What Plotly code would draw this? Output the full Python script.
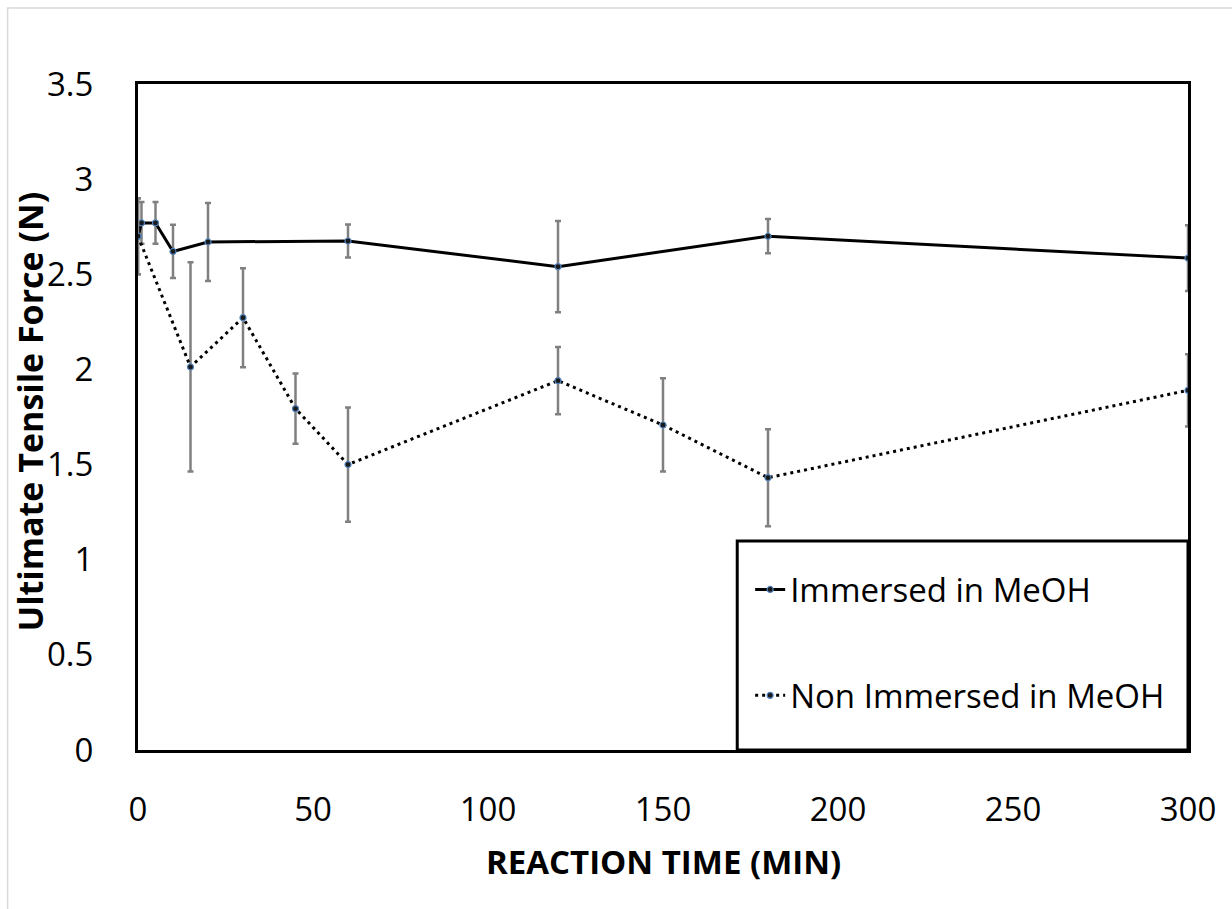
import plotly.graph_objects as go

# Reaction time (min)
time_immersed = [0, 1, 5, 10, 20, 60, 120, 180, 300]
force_immersed = [2.70, 2.77, 2.77, 2.62, 2.67, 2.675, 2.54, 2.70, 2.585]
err_immersed = [0.20, 0.11, 0.11, 0.14, 0.205, 0.087, 0.24, 0.09, 0.173]

time_non = [0, 15, 30, 45, 60, 120, 150, 180, 300]
force_non = [2.70, 2.013, 2.272, 1.794, 1.50, 1.941, 1.708, 1.431, 1.89]
err_non = [0.20, 0.55, 0.26, 0.184, 0.30, 0.177, 0.245, 0.255, 0.19]

name_immersed = "Immersed in MeOH"
name_non = "Non Immersed in MeOH"
x_title = "REACTION TIME (MIN)"
y_title = "Ultimate Tensile Force (N)"

FONT = "Open Sans"
err_style = dict(type="data", color="#808080", thickness=2.5, width=3, visible=True)
marker_style = dict(symbol="circle", size=6, color="#1a1a1a",
                    line=dict(color="#4F81BD", width=1.2))

fig = go.Figure()
fig.add_trace(go.Scatter(
    x=time_immersed, y=force_immersed, name=name_immersed, legendgroup="a",
    mode="lines+markers",
    line=dict(color="black", width=3),
    marker=marker_style,
    error_y=dict(array=err_immersed, **err_style),
))
fig.add_trace(go.Scatter(
    x=time_non, y=force_non, name=name_non, legendgroup="b",
    mode="lines+markers",
    line=dict(color="black", width=3, dash="3px,4px"),
    marker=marker_style,
    error_y=dict(array=err_non, **err_style),
))

W, H = 1232, 909
ml, mr, mt, mb = 137.5, 44, 84, 159
pw, ph = W - ml - mr, H - mt - mb

fig.update_layout(
    width=W, height=H,
    margin=dict(l=ml, r=mr, t=mt, b=mb, autoexpand=False),
    paper_bgcolor="white", plot_bgcolor="white",
    font=dict(family=FONT, size=33, color="black"),
    showlegend=True,
    legend=dict(
        x=0.583, xanchor="left", y=0.283, yanchor="top",
        bgcolor="rgba(0,0,0,0)", borderwidth=0,
        font=dict(family=FONT, size=33, color="black"),
        tracegroupgap=60,
    ),
    shapes=[
        # legend box
        dict(type="rect", xref="paper", yref="paper",
             x0=0.5707, x1=1.0, y0=0.0, y1=0.3138,
             line=dict(color="black", width=3), fillcolor="white", layer="above"),
        # faint outer chart frame
        dict(type="rect", xref="paper", yref="paper",
             x0=-0.1242, x1=1.10, y0=-0.30, y1=1.114,
             line=dict(color="#d9d9d9", width=1.5), fillcolor="rgba(0,0,0,0)", layer="below"),
    ],
    annotations=[
        dict(text="<b>" + x_title + "</b>", xref="paper", yref="paper",
             x=0.5, y=-(861 - (mt + ph)) / ph, xanchor="center", yanchor="middle",
             showarrow=False, font=dict(family=FONT, size=33, color="black")),
        dict(text="<b>" + y_title + "</b>", xref="paper", yref="paper",
             x=(29 - ml) / pw, y=(mt + ph - 412) / ph, xanchor="center", yanchor="middle",
             textangle=-90, showarrow=False, font=dict(family=FONT, size=34, color="black")),
    ],
)

fig.update_xaxes(
    range=[0, 300], dtick=50, tick0=0,
    showgrid=False, zeroline=False,
    showline=True, mirror=True, linecolor="black", linewidth=3,
    ticks="", ticklabelstandoff=28,
    tickfont=dict(family=FONT, size=33, color="black"),
)
fig.update_yaxes(
    range=[0, 3.5], dtick=0.5, tick0=0,
    showgrid=False, zeroline=False,
    showline=True, mirror=True, linecolor="black", linewidth=3,
    ticks="", ticklabelstandoff=35,
    tickfont=dict(family=FONT, size=33, color="black"),
)

fig.write_html("out.html")
